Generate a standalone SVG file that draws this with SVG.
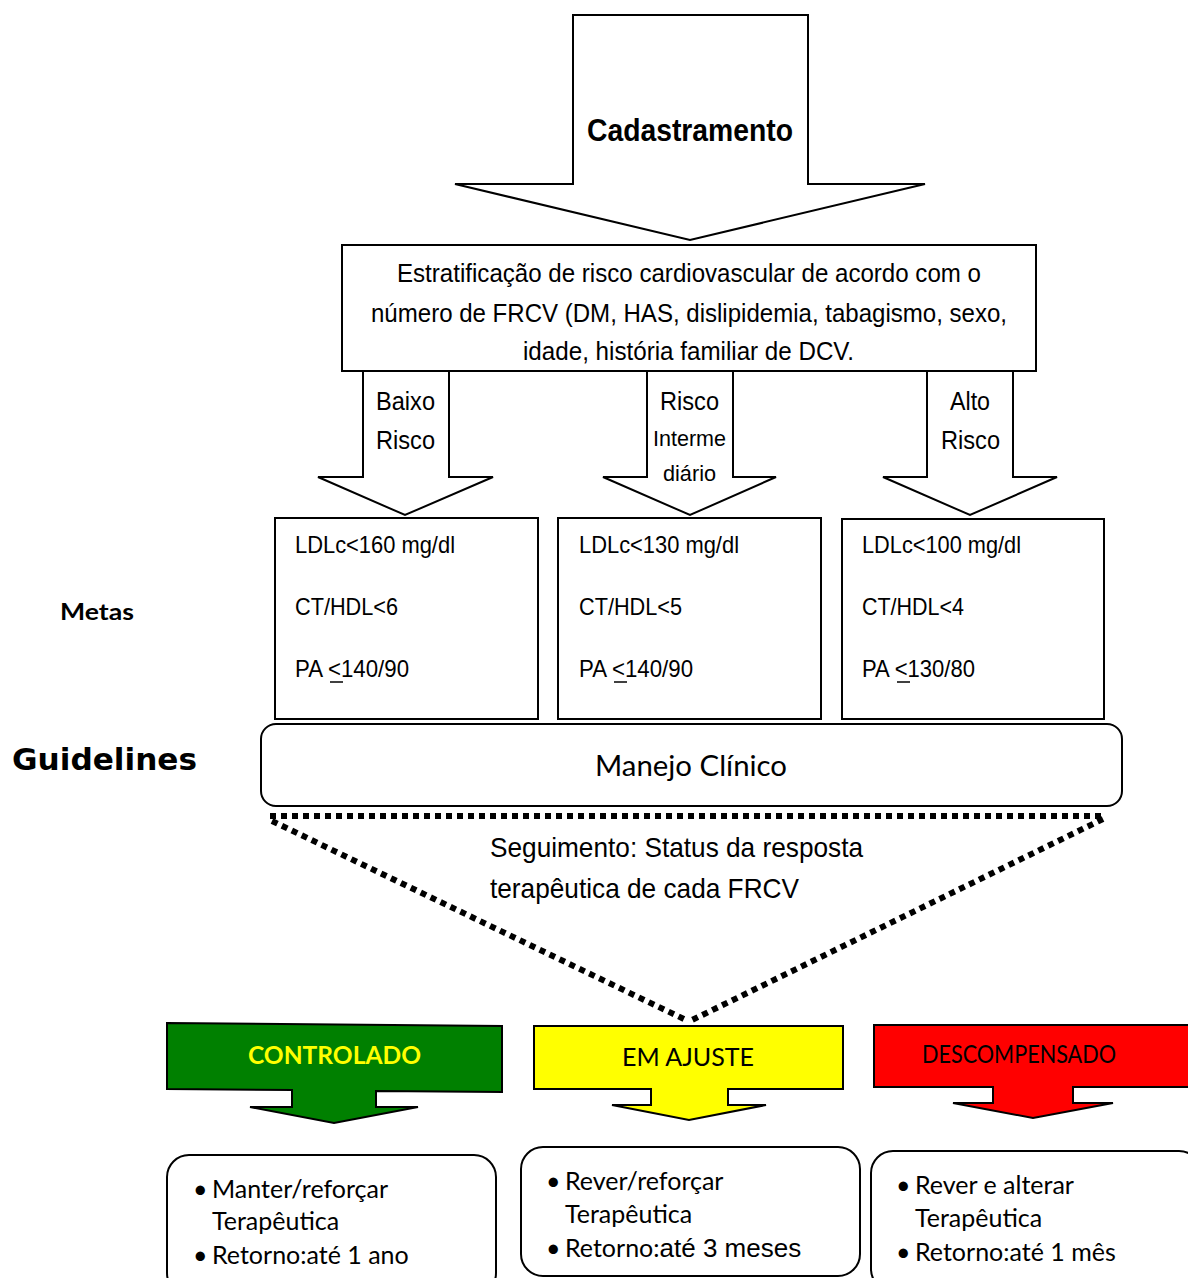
<svg xmlns="http://www.w3.org/2000/svg" width="1188" height="1278" viewBox="0 0 1188 1278">
<style>
.shape{fill:#fff;stroke:#000;stroke-width:2}
.nar{font-family:"Liberation Sans",Arial,sans-serif;fill:#000}
.cal{font-family:Lato,"Noto Sans","Liberation Sans",sans-serif;fill:#000}
.dot{fill:none;stroke:#000;stroke-width:6;stroke-dasharray:6 5}
.ul{stroke:#000;stroke-width:1.5}
</style>
<rect width="1188" height="1278" fill="#fff"/>

<g id="cadastramento">
<polygon class="shape" points="573,15 808,15 808,184 925,184 690,240 455,184 573,184"/>
<text class="nar" x="587" y="141" font-size="31" font-weight="bold" textLength="206" lengthAdjust="spacingAndGlyphs">Cadastramento</text>
</g>

<g id="estratificacao">
<rect class="shape" x="342" y="245" width="694" height="126"/>
<text class="nar" font-size="26" x="397" y="282" textLength="584" lengthAdjust="spacingAndGlyphs">Estratificação de risco cardiovascular de acordo com o</text>
<text class="nar" font-size="26" x="371" y="322" textLength="636" lengthAdjust="spacingAndGlyphs">número de FRCV (DM, HAS, dislipidemia, tabagismo, sexo,</text>
<text class="nar" font-size="26" x="523" y="360" textLength="331" lengthAdjust="spacingAndGlyphs">idade, história familiar de DCV.</text>
</g>

<g id="baixo-risco">
<polygon class="shape" points="363,371 449,371 449,477 493,477 405,515 318,477 363,477"/>
<text class="nar" font-size="26" x="376" y="410" textLength="59" lengthAdjust="spacingAndGlyphs">Baixo</text>
<text class="nar" font-size="26" x="376" y="449" textLength="59" lengthAdjust="spacingAndGlyphs">Risco</text>
</g>

<g id="risco-intermediario">
<polygon class="shape" points="647,371 733,371 733,477 776,477 690,515 603,477 647,477"/>
<text class="nar" font-size="26" x="660" y="410" textLength="59" lengthAdjust="spacingAndGlyphs">Risco</text>
<text class="nar" font-size="22" x="653" y="446" textLength="73" lengthAdjust="spacingAndGlyphs">Interme</text>
<text class="nar" font-size="22" x="663" y="481" textLength="53" lengthAdjust="spacingAndGlyphs">diário</text>
</g>

<g id="alto-risco">
<polygon class="shape" points="927,371 1013,371 1013,477 1057,477 970,515 883,477 927,477"/>
<text class="nar" font-size="26" x="950" y="410" textLength="40" lengthAdjust="spacingAndGlyphs">Alto</text>
<text class="nar" font-size="26" x="941" y="449" textLength="59" lengthAdjust="spacingAndGlyphs">Risco</text>
</g>

<g id="metas-label">
<text class="cal" x="60" y="620" font-size="23" font-weight="bold" textLength="74" lengthAdjust="spacingAndGlyphs">Metas</text>
</g>

<g id="meta-baixo">
<rect class="shape" x="275" y="518" width="263" height="201"/>
<text class="nar" font-size="24" x="295" y="553" textLength="160" lengthAdjust="spacingAndGlyphs">LDLc&lt;160 mg/dl</text>
<text class="nar" font-size="24" x="295" y="615" textLength="103" lengthAdjust="spacingAndGlyphs">CT/HDL&lt;6</text>
<text class="nar" font-size="24" x="295" y="677" textLength="114" lengthAdjust="spacingAndGlyphs">PA &lt;140/90</text>
<line class="ul" x1="330" y1="682" x2="343" y2="682"/>
</g>

<g id="meta-intermediario">
<rect class="shape" x="558" y="518" width="263" height="201"/>
<text class="nar" font-size="24" x="579" y="553" textLength="160" lengthAdjust="spacingAndGlyphs">LDLc&lt;130 mg/dl</text>
<text class="nar" font-size="24" x="579" y="615" textLength="103" lengthAdjust="spacingAndGlyphs">CT/HDL&lt;5</text>
<text class="nar" font-size="24" x="579" y="677" textLength="114" lengthAdjust="spacingAndGlyphs">PA &lt;140/90</text>
<line class="ul" x1="614" y1="682" x2="627" y2="682"/>
</g>

<g id="meta-alto">
<rect class="shape" x="842" y="519" width="262" height="200"/>
<text class="nar" font-size="24" x="862" y="553" textLength="159" lengthAdjust="spacingAndGlyphs">LDLc&lt;100 mg/dl</text>
<text class="nar" font-size="24" x="862" y="615" textLength="102" lengthAdjust="spacingAndGlyphs">CT/HDL&lt;4</text>
<text class="nar" font-size="24" x="862" y="677" textLength="113" lengthAdjust="spacingAndGlyphs">PA &lt;130/80</text>
<line class="ul" x1="897" y1="682" x2="910" y2="682"/>
</g>

<g id="guidelines-label">
<text x="12" y="770" font-family="'DejaVu Sans',Verdana,sans-serif" font-size="31" font-weight="bold" fill="#000" textLength="185" lengthAdjust="spacingAndGlyphs">Guidelines</text>
</g>

<g id="manejo">
<rect class="shape" x="261" y="724" width="861" height="82" rx="15"/>
<text class="cal" x="595" y="776" font-size="29" textLength="192" lengthAdjust="spacingAndGlyphs">Manejo Clínico</text>
</g>

<g id="connectors">
<line class="dot" x1="270" y1="816" x2="1105" y2="816"/>
<line class="dot" x1="272" y1="821" x2="688" y2="1021"/>
<line class="dot" x1="1103" y1="819" x2="690" y2="1021"/>
</g>

<g id="seguimento">
<text class="nar" font-size="28" x="490" y="857" textLength="373" lengthAdjust="spacingAndGlyphs">Seguimento: Status da resposta</text>
<text class="nar" font-size="28" x="490" y="898" textLength="309" lengthAdjust="spacingAndGlyphs">terapêutica de cada FRCV</text>
</g>

<g id="controlado">
<polygon points="167,1023 502,1026 502,1092 376,1091 376,1107 418,1107 334,1123 250,1107 292,1107 292,1090 167,1089" fill="#008000" stroke="#000" stroke-width="2"/>
<text class="cal" x="248" y="1064" font-size="25" font-weight="bold" style="fill:#ffff00" textLength="173" lengthAdjust="spacingAndGlyphs">CONTROLADO</text>
</g>

<g id="em-ajuste">
<polygon points="534,1026 843,1026 843,1089 728,1089 728,1105 766,1105 689,1120 612,1105 651,1105 651,1089 534,1089" fill="#ffff00" stroke="#000" stroke-width="2"/>
<text class="cal" x="622" y="1066" font-size="25" textLength="132" lengthAdjust="spacingAndGlyphs">EM AJUSTE</text>
</g>

<g id="descompensado">
<polygon points="874,1025 1190,1025 1190,1087 1073,1087 1073,1103 1113,1103 1033,1118 953,1103 993,1103 993,1087 874,1087" fill="#ff0000" stroke="#000" stroke-width="2"/>
<text class="cal" x="922" y="1063" font-size="25" textLength="194" lengthAdjust="spacingAndGlyphs">DESCOMPENSADO</text>
</g>

<g id="acao-controlado">
<rect class="shape" x="167" y="1155" width="329" height="140" rx="22"/>
<text class="cal" font-size="25" x="193" y="1198">•</text>
<text class="cal" font-size="25" x="212" y="1198">Manter/reforçar</text>
<text class="cal" font-size="25" x="212" y="1230">Terapêutica</text>
<text class="cal" font-size="25" x="193" y="1264">•</text>
<text class="cal" font-size="25" x="212" y="1264">Retorno:até 1 ano</text>
</g>

<g id="acao-ajuste">
<rect class="shape" x="521" y="1147" width="339" height="129" rx="22"/>
<text class="cal" font-size="25" x="546" y="1190">•</text>
<text class="cal" font-size="25" x="565" y="1190">Rever/reforçar</text>
<text class="cal" font-size="25" x="565" y="1223">Terapêutica</text>
<text class="cal" font-size="25" x="546" y="1257">•</text>
<text class="cal" font-size="25" x="565" y="1257">Retorno:<tspan font-size="26" style="font-family:'Liberation Sans',Arial,sans-serif">até 3 meses</tspan></text>
</g>

<g id="acao-descompensado">
<rect class="shape" x="871" y="1151" width="330" height="140" rx="22"/>
<text class="cal" font-size="25" x="896" y="1194">•</text>
<text class="cal" font-size="25" x="915" y="1194">Rever e alterar</text>
<text class="cal" font-size="25" x="915" y="1227">Terapêutica</text>
<text class="cal" font-size="25" x="896" y="1261">•</text>
<text class="cal" font-size="25" x="915" y="1261">Retorno:até 1 mês</text>
</g>
</svg>
